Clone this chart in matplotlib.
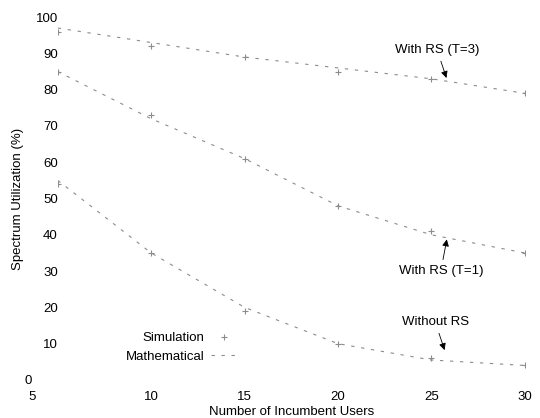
import matplotlib
matplotlib.use("Agg")
import matplotlib.pyplot as plt
import matplotlib.transforms as mtransforms
from matplotlib.lines import Line2D

plt.rcParams["font.family"] = ["Liberation Sans", "DejaVu Sans"]

# ── Data ────────────────────────────────────────────────────────────────
users = [5, 10, 15, 20, 25, 30]
with_rs_t3 = [97, 93, 89, 86, 83, 79]
with_rs_t1 = [85, 72, 61, 48, 40, 35]
without_rs = [55, 35, 20, 10, 5.5, 4]

sim_users = [5, 10, 15, 20, 25, 30]
sim_t3 = [96, 92, 89, 85, 83, 79]
sim_t1 = [85, 73, 61, 48, 41, 35]
sim_without = [54, 35, 19, 10, 6, 4]

x_ticks = [5, 10, 15, 20, 25, 30]
y_ticks = [0, 10, 20, 30, 40, 50, 60, 70, 80, 90, 100]

fig = plt.figure(figsize=(5.4, 4.18), dpi=100)
ax = fig.add_axes([0.107, 0.091, 0.865, 0.868])

line_kw = dict(color="0.55", lw=0.8, linestyle=(0, (3, 6)))
mark_kw = dict(color="0.55", marker="+", markersize=5, linestyle="none", mew=0.8)

for ys in (with_rs_t3, with_rs_t1, without_rs):
    ax.plot(users, ys, **line_kw)
for ys in (sim_t3, sim_t1, sim_without):
    ax.plot(sim_users, ys, **mark_kw)

# ── Curve labels with arrows ───────────────────────────────────────────
arrow = dict(arrowstyle="-|>", color="black", lw=0.6, mutation_scale=10)
ax.annotate("With RS (T=3)", xy=(25.85, 82.5), xytext=(25.3, 91.0),
            ha="center", va="center", fontsize=9.5, arrowprops=arrow)
ax.annotate("With RS (T=1)", xy=(25.85, 39.5), xytext=(25.5, 30.0),
            ha="center", va="center", fontsize=9.5, arrowprops=arrow)
ax.annotate("Without RS", xy=(25.75, 7.5), xytext=(25.2, 16.0),
            ha="center", va="center", fontsize=9.5, arrowprops=arrow)

# ── Legend (text right-aligned, keys on the right) ─────────────────────
handles = [
    Line2D([], [], **mark_kw),
    Line2D([], [], **line_kw),
]
ax.legend(handles, ["Simulation", "Mathematical"], loc="lower left",
          bbox_to_anchor=(0.12, 0.015), frameon=False, fontsize=9.5,
          handlelength=2.0, handletextpad=0.5, labelspacing=0.45,
          markerfirst=False)

ax.set_xlim(5, 30)
ax.set_ylim(0, 100)
ax.set_xticks(x_ticks)
ax.set_yticks(y_ticks)
ax.tick_params(axis="x", length=0, labelsize=9.5, pad=8)
ax.tick_params(axis="y", length=0, labelsize=9.5, pad=0)
for s in ax.spines.values():
    s.set_visible(False)

ax.set_xlabel("Number of Incumbent Users", fontsize=9.5, labelpad=2)
ax.set_ylabel("Spectrum Utilization (%)", fontsize=9.5, labelpad=0)

# corner labels sit off to the left in the original
fig.canvas.draw()
shift = mtransforms.ScaledTranslation(-26 / 100, 0, fig.dpi_scale_trans)
ax.get_xticklabels()[0].set_transform(ax.get_xticklabels()[0].get_transform() + shift)
ax.get_yticklabels()[0].set_transform(ax.get_yticklabels()[0].get_transform() + shift)

fig.savefig("out.png", dpi=100)
